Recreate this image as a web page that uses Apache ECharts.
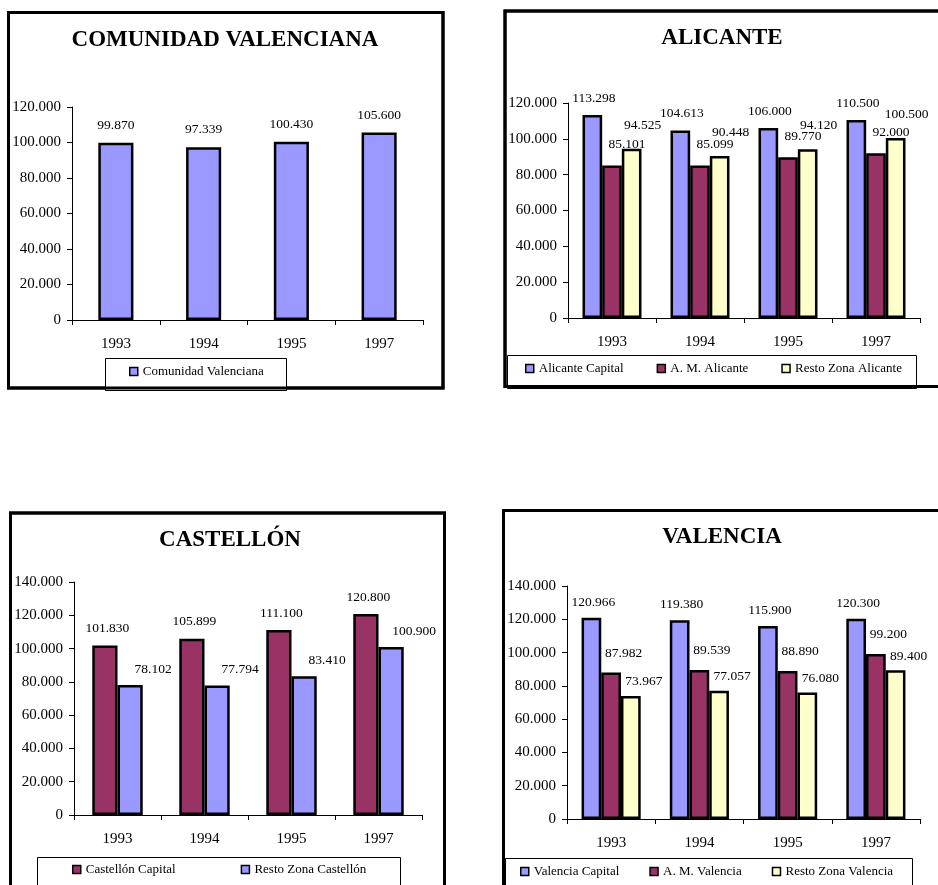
<!DOCTYPE html>
<html>
<head>
<meta charset="utf-8">
<script src="https://cdn.jsdelivr.net/npm/echarts@6/dist/echarts.min.js"></script>
<style>
html,body{margin:0;padding:0;background:#fff;}
#chart{width:938px;height:885px;}
</style>
</head>
<body>
<div id="chart"></div>
<script>
// ---- data ----
const categories = ['1993', '1994', '1995', '1997'];

const titleCV = 'COMUNIDAD VALENCIANA';
const cvNames = ['Comunidad Valenciana'];
const cvComunidad = [99870, 97339, 100430, 105600];

const titleAlicante = 'ALICANTE';
const alicanteNames = ['Alicante Capital', 'A. M. Alicante', 'Resto Zona Alicante'];
const alicanteCapital = [113298, 104613, 106000, 110500];
const alicanteAM = [85101, 85099, 89770, 92000];
const alicanteResto = [94525, 90448, 94120, 100500];

const titleCastellon = 'CASTELLÓN';
const castellonNames = ['Castellón Capital', 'Resto Zona Castellón'];
const castellonCapital = [101830, 105899, 111100, 120800];
const castellonResto = [78102, 77794, 83410, 100900];

const titleValencia = 'VALENCIA';
const valenciaNames = ['Valencia Capital', 'A. M. Valencia', 'Resto Zona Valencia'];
const valenciaCapital = [120966, 119380, 115900, 120300];
const valenciaAM = [87982, 89539, 88890, 99200];
const valenciaResto = [73967, 77057, 76080, 89400];

// ---- styling ----
const FONT = "'Times New Roman', 'Liberation Serif', serif";
const BLUE = '#9999FF', MAROON = '#993366', CREAM = '#FFFFCC';
const fmt = v => String(v).replace(/\B(?=(\d{3})+(?!\d))/g, '.');

const panels = [
  { title: titleCV, tx: 225, ty: 40, grid: {left: 72, top: 107, width: 351, height: 213}, max: 120000,
    names: cvNames, data: [cvComunidad], colors: [BLUE], barWidth: '40%',
    lab: [[0, 10.5]],
    legend: {left: 129, top: 365, gap: 30}, box: [105, 358, 181, 32] },
  { title: titleAlicante, tx: 722, ty: 38, grid: {left: 568, top: 103, width: 352, height: 215}, max: 120000,
    names: alicanteNames, data: [alicanteCapital, alicanteAM, alicanteResto], colors: [BLUE, MAROON, CREAM], gap: '33%',
    lab: [[1.5, 10], [15, 14], [11, 16.5]],
    legend: {left: 525, top: 362, gap: 33}, box: [507, 355, 409, 33] },
  { title: titleCastellon, tx: 230, ty: 540, grid: {left: 74, top: 582, width: 348, height: 233}, max: 140000,
    names: castellonNames, data: [castellonCapital, castellonResto], colors: [MAROON, BLUE], gap: '42%',
    lab: [[2.5, 10], [23, 9]],
    legend: {left: 72, top: 863, gap: 65}, box: [37, 857, 363, 40] },
  { title: titleValencia, tx: 722, ty: 537, grid: {left: 567, top: 586, width: 353, height: 233}, max: 140000,
    names: valenciaNames, data: [valenciaCapital, valenciaAM, valenciaResto], colors: [BLUE, MAROON, CREAM], gap: '33%',
    lab: [[2, 8.5], [12.5, 12.5], [13, 7]],
    legend: {left: 520, top: 865, gap: 30}, box: [505, 858, 407, 40] }
];

const borders = [
  [8.5, 12.5, 434.5, 375.5],
  [505, 11, 460, 375.5],
  [10.5, 513, 434, 400],
  [503.5, 510.5, 460, 400]
];

const option = {
  backgroundColor: '#fff',
  animation: false,
  title: [], legend: [], grid: [], xAxis: [], yAxis: [], series: [],
  graphic: []
};

borders.forEach(b => {
  option.graphic.push({ type: 'rect', z: 0, shape: {x: b[0], y: b[1], width: b[2], height: b[3]},
    style: {fill: '#fff', stroke: '#000', lineWidth: 3} });
});

panels.forEach((p, i) => {
  option.title.push({
    text: p.title, left: p.tx, top: p.ty, textAlign: 'center', textVerticalAlign: 'middle', padding: 0,
    textStyle: {fontFamily: FONT, fontSize: 23, fontWeight: 'bold', color: '#000'}
  });
  option.grid.push(Object.assign({containLabel: false, outerBoundsMode: 'none'}, p.grid));
  option.xAxis.push({
    type: 'category', gridIndex: i, data: categories,
    axisLine: {show: true, lineStyle: {color: '#000', width: 1}},
    axisTick: {show: true, length: 5, lineStyle: {color: '#000'}},
    axisLabel: {color: '#000', fontFamily: FONT, fontSize: 15, margin: 17},
    splitLine: {show: false}
  });
  option.yAxis.push({
    type: 'value', gridIndex: i, min: 0, max: p.max, interval: 20000,
    axisLine: {show: true, lineStyle: {color: '#000', width: 1}},
    axisTick: {show: true, length: 5, lineStyle: {color: '#000'}},
    axisLabel: {color: '#000', fontFamily: FONT, fontSize: 15, margin: 11, formatter: fmt},
    splitLine: {show: false}
  });
  p.data.forEach((arr, k) => {
    const s = {
      type: 'bar', name: p.names[k], xAxisIndex: i, yAxisIndex: i, data: arr,
      itemStyle: {color: p.colors[k], borderColor: '#000', borderWidth: 2.5},
      label: {show: true, position: 'top', distance: p.lab[k][1], offset: [p.lab[k][0], 0],
        color: '#000', fontFamily: FONT, fontSize: 13.5, formatter: o => fmt(o.value)},
      emphasis: {disabled: true}
    };
    if (p.barWidth) s.barWidth = p.barWidth;
    if (p.gap) { s.barCategoryGap = p.gap; s.barGap = '0%'; }
    option.series.push(s);
  });
  option.graphic.push({ type: 'rect', z: 1, shape: {x: p.box[0] + 0.5, y: p.box[1] + 0.5, width: p.box[2], height: p.box[3]},
    style: {fill: '#fff', stroke: '#000', lineWidth: 1} });
  option.legend.push({
    data: p.names, left: p.legend.left, top: p.legend.top, padding: 0, itemGap: p.legend.gap,
    itemWidth: 8, itemHeight: 8, icon: 'rect', selectedMode: false, orient: 'horizontal',
    itemStyle: {borderColor: '#000', borderWidth: 1.5},
    textStyle: {color: '#000', fontFamily: FONT, fontSize: 13}
  });
});

// redraw outer borders on top of legend boxes' bottom edges
borders.forEach(b => {
  option.graphic.push({ type: 'rect', z: 2, shape: {x: b[0], y: b[1], width: b[2], height: b[3]},
    style: {fill: 'none', stroke: '#000', lineWidth: 3} });
});

const chart = echarts.init(document.getElementById('chart'), null, {renderer: 'canvas'});
chart.setOption(option);
</script>
</body>
</html>
